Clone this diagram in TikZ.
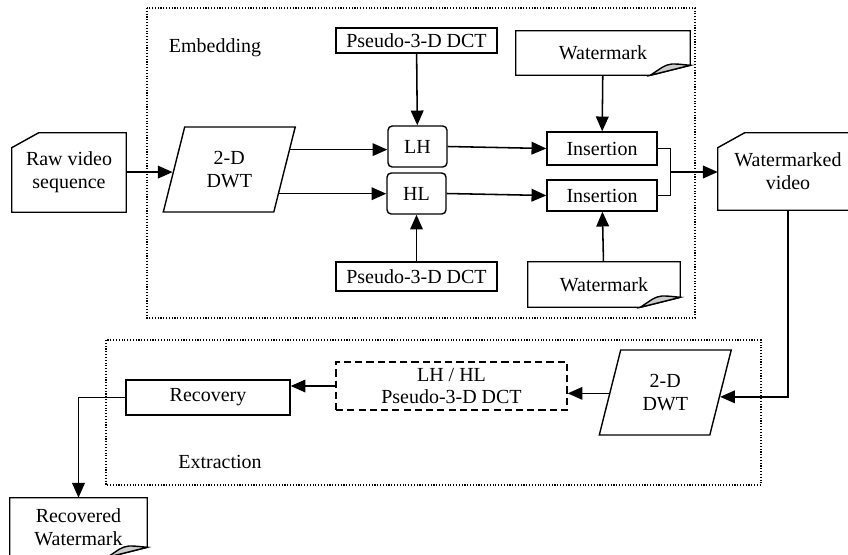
\documentclass[tikz,border=0pt]{standalone}
\usepackage{fontspec}
\setmainfont{Liberation Serif}
\usetikzlibrary{shapes.geometric,arrows.meta,calc}

\newcommand{\cardedge}[1]{%
  \draw[line width=1pt] ($(#1.north west)+(0,15)$) -- ($(#1.north west)+(27,0)$)
    -- (#1.north east) -- (#1.south east) -- (#1.south west) -- cycle;}
\newcommand{\foldedge}[1]{%
  \draw[line width=1pt] (#1.north west) -- (#1.north east) -- ($(#1.south east)+(0,-10)$)
    -- ($(#1.south east)+(-40,0)$) -- (#1.south west) -- cycle;
  \filldraw[line width=1pt, fill=gray!40] ($(#1.south east)+(-40,0)$) -- ($(#1.south east)+(0,-10)$)
    .. controls ($(#1.south east)+(-20,-12)$) .. ($(#1.south east)+(-28,-8)$) -- cycle;}

\begin{document}
\begin{tikzpicture}[x=0.025cm, y=-0.025cm,
  every node/.style={font=\fontsize{14.2pt}{16.3pt}\selectfont, inner sep=0pt, align=center},
  sz/.style 2 args={minimum width=#1*0.025cm, minimum height=#2*0.025cm},
  box/.style={draw, line width=1pt},
  band/.style={draw, line width=1pt, rounded corners=3pt},
  dwtbox/.style={draw, line width=1pt, trapezium, trapezium left angle=73.3,
    trapezium right angle=106.7, trapezium stretches=true},
  subbox/.style={draw, line width=1pt, dash pattern=on 5pt off 3pt},
  frame/.style={line width=0.8pt, dash pattern=on 0.8pt off 1.2pt},
  arr/.style={-{Triangle[length=10.5pt,width=9pt]}, line width=1.1pt},
  line/.style={line width=1.1pt}]
\useasboundingbox (0,0) rectangle (848,554);

\draw[frame] (147,8) rectangle (695,318);
\draw[frame] (106,340) rectangle (761,485);
\node (embed) at (215,48) {Embedding};
\node (extract) at (220,462) {Extraction};

\node[sz={114}{79}] (raw) at (69,172.5) {Raw video\\sequence};
\cardedge{raw}
\node[dwtbox, sz={132.5}{85}] (dwt) at (229.25,169.5) {2-D\\DWT};
\node[box, sz={161}{25}] (dcttop) at (416.5,40.5) {Pseudo-3-D DCT};
\node[sz={174}{44}] (wmtop) at (603,53) {Watermark};
\foldedge{wmtop}
\node[band, sz={59}{41}] (lh) at (417.5,146.5) {LH};
\node[band, sz={59}{41}] (hl) at (416.5,193.5) {HL};
\node[box, sz={110}{33}] (insa) at (602,148.5) {Insertion};
\node[box, sz={110}{31}] (insb) at (602,195.5) {Insertion};
\node[box, sz={161}{29}] (dctbot) at (416.5,276.5) {Pseudo-3-D DCT};
\node[sz={152}{45}] (wmbot) at (604,284.5) {Watermark};
\foldedge{wmbot}
\node[sz={140}{77}] (wmv) at (788,171.5) {Watermarked\\video};
\cardedge{wmv}

\node[dwtbox, sz={132.5}{85}] (dwtx) at (665.25,392.5) {2-D\\DWT};
\node[subbox, sz={231}{48}] (sub) at (451.5,386) {LH / HL\\Pseudo-3-D DCT};
\node[box, sz={164}{35}] (rec) at (208,397.5) {Recovery};
\node[sz={137}{59}] (rwm) at (78.5,527.5) {Recovered\\Watermark};
\foldedge{rwm}

\coordinate (dwtin) at ($(dwt.bottom left corner)!0.47!(dwt.top left corner)$);
\coordinate (dwtlh) at ($(dwt.top right corner)!0.27!(dwt.bottom right corner)$);
\coordinate (dwthl) at ($(dwt.top right corner)!0.78!(dwt.bottom right corner)$);
\coordinate (join) at ($($(insa.east)!0.5!(insb.east)$)+(13,0)$);
\coordinate (dwtxin) at ($(dwtx.bottom right corner)!0.45!(dwtx.top right corner)$);
\coordinate (dwtxout) at ($(dwtx.bottom left corner)!0.49!(dwtx.top left corner)$);

\draw[arr] (raw.east |- dwtin) -- (dwtin);
\draw[arr] (dwtlh) -- (dwtlh -| lh.west);
\draw[arr] (dwthl) -- (dwthl -| hl.west);
\draw[arr] (dcttop) -- (lh);
\draw[arr] (dctbot) -- (hl);
\draw[arr] (lh.east) -- (insa.west);
\draw[arr] (hl.east) -- (insb.west);
\draw[arr] (wmtop) -- (insa);
\draw[arr] (wmbot) -- (insb);
\draw[line] (insa.east) -| (join) |- (insb.east);
\draw[arr] (join) -- (join -| wmv.west);
\draw[arr] (wmv.south) |- (dwtxin);
\draw[arr] (dwtxout) -- (dwtxout -| sub.east);
\draw[arr] (sub.west) -- (sub.west -| rec.east);
\draw[arr] (rec.west) -| (rwm.north);
\end{tikzpicture}
\end{document}
